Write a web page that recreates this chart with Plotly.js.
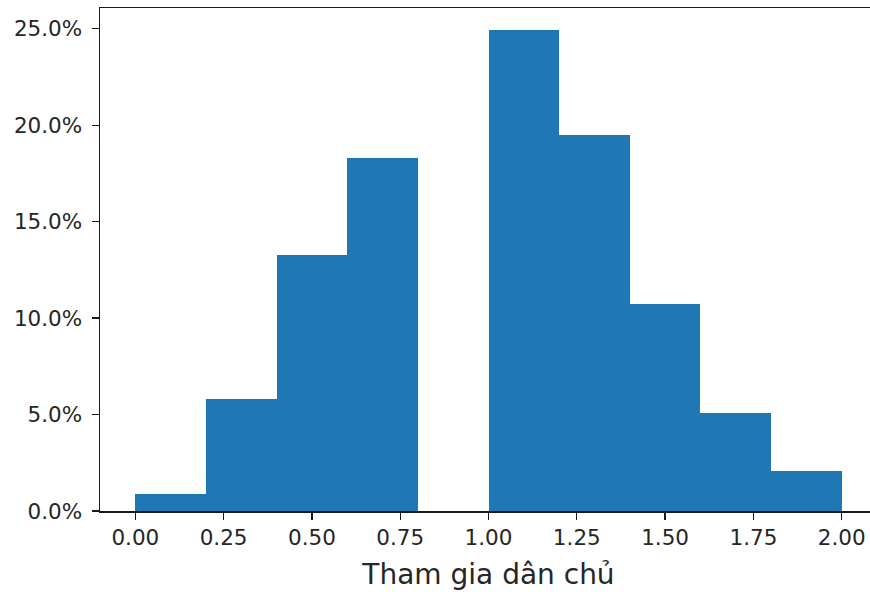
<!DOCTYPE html>
<html>
<head>
<meta charset="utf-8">
<script src="https://cdn.plot.ly/plotly-3.0.1.min.js"></script>
<style>
html, body { margin: 0; padding: 0; overflow: hidden; background: #fff; }
#chart { width: 880px; height: 592px; }
</style>
</head>
<body>
<div id="chart"></div>
<script>
// Bin edges (left) and share of observations per bin
const binStarts = [0.0, 0.2, 0.4, 0.6, 0.8, 1.0, 1.2, 1.4, 1.6, 1.8];
const binWidth = 0.2;
const shares = [0.0087, 0.0579, 0.1327, 0.1831, 0.0, 0.2493, 0.1952, 0.1075, 0.0510, 0.0207];
const xTicks = [0, 0.25, 0.5, 0.75, 1.0, 1.25, 1.5, 1.75, 2.0];
const xTickText = ["0.00", "0.25", "0.50", "0.75", "1.00", "1.25", "1.50", "1.75", "2.00"];
const yTicks = [0, 0.05, 0.10, 0.15, 0.20, 0.25];
const xTitle = "Tham gia dân chủ";

const centers = binStarts.map(s => s + binWidth / 2);

const trace = {
  type: 'bar',
  x: centers,
  y: shares,
  width: binStarts.map(() => binWidth),
  marker: { color: '#1f77b4', line: { width: 0 } },
  hoverinfo: 'x+y'
};

const txt = '#262626';

const layout = {
  width: 880,
  height: 592,
  margin: { l: 100, r: 3, t: 8, b: 81 },
  paper_bgcolor: '#fff',
  plot_bgcolor: '#fff',
  showlegend: false,
  font: { family: 'DejaVu Sans, sans-serif', color: txt },
  bargap: 0,
  xaxis: {
    range: [-0.1, 2.1],
    tickvals: xTicks,
    ticktext: xTickText,
    ticks: 'outside',
    ticklen: 7,
    tickwidth: 1.3,
    tickcolor: '#1a1a1a',
    showgrid: false,
    zeroline: false,
    showline: true,
    linecolor: '#1a1a1a',
    linewidth: 1.5,
    mirror: true,
    ticklabelstandoff: 0,
    tickfont: { family: 'DejaVu Sans', size: 21.5, color: txt },
    title: { text: xTitle, font: { family: 'DejaVu Sans', size: 28, color: txt }, standoff: 15 }
  },
  yaxis: {
    range: [0, 0.2608],
    tickvals: yTicks,
    tickformat: '.1%',
    ticks: 'outside',
    ticklen: 7,
    tickwidth: 1.3,
    tickcolor: '#1a1a1a',
    showgrid: false,
    zeroline: false,
    showline: true,
    linecolor: '#1a1a1a',
    linewidth: 1.5,
    mirror: true,
    ticklabelstandoff: 5,
    tickfont: { family: 'DejaVu Sans', size: 21.5, color: txt }
  }
};

Plotly.newPlot('chart', [trace], layout, { displayModeBar: false, staticPlot: true });
</script>
</body>
</html>
